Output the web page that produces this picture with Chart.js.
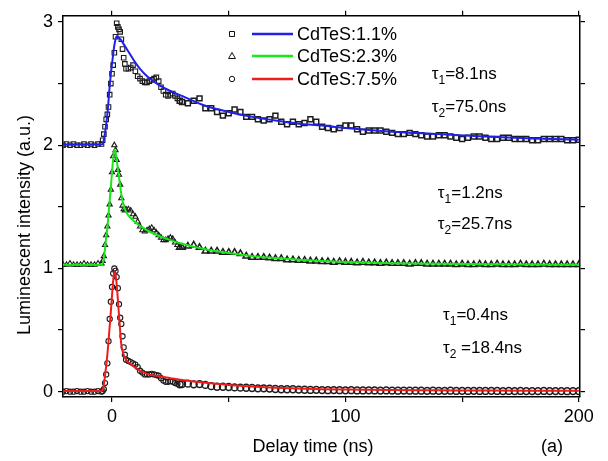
<!DOCTYPE html>
<html>
<head>
<meta charset="utf-8">
<script src="https://cdn.jsdelivr.net/npm/chart.js@4.4.1/dist/chart.umd.min.js"></script>
<style>
  html, body { margin: 0; padding: 0; background: #fff; }
  #wrap { width: 608px; height: 461px; }
</style>
</head>
<body>
<div id="wrap"><canvas id="decayChart"></canvas></div>
<script>
// Measured points: one common time grid (ns)
const t = [
  -21, -19.5, -18, -16.5, -15, -13.5, -12, -10.5, -9, -7.5, -6, -4.5,
  -4, -3.5, -3, -2.5, -2, -1.5, -1, -0.5, 0, 0.5, 1, 1.5, 2, 2.5, 3, 3.5, 4, 4.5, 5, 5.5, 6,
  7, 8, 9, 10, 11, 12, 13, 14, 15, 16, 17, 18, 19, 20, 21, 22, 23, 24, 25, 26, 27, 28, 29, 30,
  32.5, 35, 37.5, 40, 42.5, 45, 47.5, 50, 52.5, 55,
  57.5, 60, 62.5, 65, 67.5, 70, 72.5, 75, 77.5, 80,
  82.5, 85, 87.5, 90, 92.5, 95, 97.5, 100, 102.5, 105,
  107.5, 110, 112.5, 115, 117.5, 120, 122.5, 125, 127.5, 130,
  132.5, 135, 137.5, 140, 142.5, 145, 147.5, 150, 152.5, 155,
  157.5, 160, 162.5, 165, 167.5, 170, 172.5, 175, 177.5, 180,
  182.5, 185, 187.5, 190, 192.5, 195, 197.5, 200
];

// CdTeS:1.1% (offset by 2)
const dataBlue = [
  2.00, 2.01, 2.00, 2.01, 2.00, 2.00, 2.01, 2.00, 2.01, 2.00, 2.01, 2.01,
  2.04, 2.09, 2.15, 2.21, 2.25, 2.31, 2.41, 2.50, 2.58, 2.65, 2.75, 2.88, 2.99, 2.96, 2.94, 2.92, 2.86, 2.78, 2.71, 2.66, 2.62,
  2.62, 2.63, 2.65, 2.60, 2.56, 2.54, 2.52, 2.51, 2.51, 2.52, 2.53, 2.54, 2.55, 2.52, 2.47, 2.44, 2.41, 2.40, 2.41, 2.42, 2.40, 2.38, 2.36, 2.35,
  2.34, 2.36, 2.38, 2.30, 2.30, 2.27, 2.24, 2.26, 2.29, 2.27,
  2.23, 2.23, 2.21, 2.20, 2.21, 2.24, 2.19, 2.17, 2.19, 2.17,
  2.18, 2.21, 2.19, 2.15, 2.14, 2.13, 2.14, 2.16, 2.16, 2.13,
  2.11, 2.12, 2.12, 2.12, 2.11, 2.10, 2.09, 2.09, 2.10, 2.09,
  2.08, 2.07, 2.07, 2.08, 2.08, 2.07, 2.06, 2.05, 2.06, 2.07,
  2.07, 2.06, 2.05, 2.05, 2.06, 2.06, 2.05, 2.05, 2.05, 2.04,
  2.04, 2.05, 2.05, 2.05, 2.05, 2.04, 2.04, 2.045
];

// CdTeS:2.3% (offset by ~1)
const dataGreen = [
  1.03, 1.03, 1.04, 1.03, 1.03, 1.03, 1.04, 1.03, 1.03, 1.03, 1.04, 1.04,
  1.06, 1.10, 1.19, 1.27, 1.34, 1.43, 1.52, 1.64, 1.78, 1.91, 2.00, 1.96, 1.88, 1.80, 1.76, 1.68, 1.57, 1.51, 1.48, 1.47, 1.48,
  1.48, 1.47, 1.44, 1.42, 1.38, 1.34, 1.31, 1.30, 1.31, 1.32, 1.33, 1.31, 1.29, 1.27, 1.25, 1.23, 1.23, 1.24, 1.25, 1.24, 1.21, 1.19, 1.17, 1.17,
  1.18, 1.19, 1.17, 1.14, 1.14, 1.14, 1.13, 1.13, 1.13, 1.12,
  1.10, 1.09, 1.09, 1.09, 1.085, 1.08, 1.08, 1.07, 1.07, 1.065,
  1.065, 1.06, 1.06, 1.055, 1.055, 1.05, 1.055, 1.05, 1.05, 1.045,
  1.05, 1.045, 1.045, 1.04, 1.045, 1.04, 1.04, 1.04, 1.035, 1.04,
  1.04, 1.035, 1.035, 1.035, 1.035, 1.035, 1.03, 1.035, 1.03, 1.03,
  1.035, 1.03, 1.03, 1.035, 1.03, 1.03, 1.03, 1.035, 1.03, 1.03,
  1.03, 1.035, 1.03, 1.03, 1.03, 1.03, 1.03, 1.03
];

// CdTeS:7.5%
const dataRed = [
  0.00, 0.005, 0.00, 0.00, 0.005, 0.00, 0.00, 0.005, 0.00, 0.00, 0.005, 0.00,
  0.005, 0.02, 0.07, 0.14, 0.23, 0.41, 0.59, 0.73, 0.85, 0.96, 1.00, 0.98, 0.93, 0.84, 0.71, 0.60, 0.55, 0.45, 0.36, 0.30, 0.26,
  0.25, 0.24, 0.23, 0.22, 0.20, 0.17, 0.155, 0.14, 0.14, 0.14, 0.145, 0.14, 0.135, 0.13, 0.11, 0.09, 0.08, 0.08, 0.085, 0.08, 0.07, 0.065, 0.06, 0.062,
  0.065, 0.06, 0.062, 0.055, 0.045, 0.04, 0.04, 0.038, 0.035, 0.033,
  0.032, 0.03, 0.027, 0.027, 0.025, 0.022, 0.02, 0.02, 0.02, 0.017,
  0.016, 0.014, 0.015, 0.013, 0.012, 0.013, 0.012, 0.011, 0.012, 0.01,
  0.01, 0.011, 0.01, 0.009, 0.01, 0.009, 0.008, 0.009, 0.008, 0.008,
  0.008, 0.007, 0.008, 0.007, 0.007, 0.008, 0.006, 0.007, 0.006, 0.007,
  0.006, 0.006, 0.007, 0.006, 0.005, 0.006, 0.005, 0.006, 0.005, 0.005,
  0.005, 0.006, 0.005, 0.005, 0.005, 0.004, 0.005, 0.005
];

// Fitted curves
const fitT = [
  -21, -5, -4, -3.5, -3, -2.5, -2, -1.5, -1, -0.5,
  0, 0.5, 1, 1.5, 2, 2.5, 3, 4, 5, 6,
  7, 8, 10, 12, 15, 20, 25, 30, 40, 50,
  60, 70, 80, 90, 100, 120, 140, 160, 180, 200
];
const fitBlue = [
  2.005, 2.005, 2.01, 2.04, 2.10, 2.17, 2.25, 2.36, 2.48, 2.58,
  2.66, 2.74, 2.81, 2.86, 2.885, 2.88, 2.87, 2.85, 2.82, 2.79,
  2.76, 2.73, 2.67, 2.62, 2.56, 2.49, 2.44, 2.40, 2.32, 2.27,
  2.23, 2.20, 2.175, 2.16, 2.14, 2.11, 2.09, 2.07, 2.055, 2.045
];
const fitGreen = [
  1.03, 1.03, 1.04, 1.08, 1.16, 1.25, 1.33, 1.44, 1.55, 1.66,
  1.78, 1.89, 1.965, 1.95, 1.88, 1.81, 1.74, 1.60, 1.51, 1.46,
  1.43, 1.41, 1.375, 1.345, 1.31, 1.265, 1.23, 1.20, 1.155, 1.125,
  1.10, 1.085, 1.07, 1.06, 1.052, 1.043, 1.038, 1.035, 1.032, 1.03
];
const fitRed = [
  0.005, 0.005, 0.015, 0.06, 0.13, 0.21, 0.30, 0.41, 0.53, 0.65,
  0.78, 0.90, 0.975, 0.95, 0.87, 0.75, 0.62, 0.38, 0.30, 0.26,
  0.24, 0.225, 0.195, 0.17, 0.145, 0.125, 0.11, 0.095, 0.072, 0.055,
  0.042, 0.032, 0.025, 0.02, 0.017, 0.013, 0.011, 0.009, 0.008, 0.007
];

const seriesNames = ['CdTeS:1.1%', 'CdTeS:2.3%', 'CdTeS:7.5%'];
const tau1Text = ['=8.1ns', '=1.2ns', '=0.4ns'];
const tau2Text = ['=75.0ns', '=25.7ns', ' =18.4ns'];
const xTicksShown = [0, 100, 200];
const yTicksShown = [0, 1, 2, 3];

const FONT = '"Liberation Sans", Arial, Helvetica, sans-serif';
const colors = ['#2020e8', '#18e818', '#ee1c1c'];
const markerStyles = ['rect', 'triangle', 'circle'];

const toPts = (xs, ys) => xs.map((x, i) => ({ x: x, y: ys[i] }));

function markerSet(ys, style, r, grow) {
  return {
    data: toPts(t, ys),
    pointStyle: style,
    // the dense tail reads as a dark chain in the original, so markers there are a bit bigger
    pointRadius: c => (c.raw && c.raw.x > 28) ? r + grow : r,
    borderWidth: c => (c.raw && c.raw.x > 28) ? 1.5 : 1.1,
    pointBorderColor: '#1c1c1c',
    pointBackgroundColor: 'rgba(255,255,255,0)',
    showLine: false,
    order: 1
  };
}
function fitSet(ys, color) {
  return {
    data: toPts(fitT, ys),
    borderColor: color,
    borderWidth: 2,
    pointRadius: 0,
    showLine: true,
    cubicInterpolationMode: 'monotone',
    order: 0
  };
}

// Legend, tau labels and axis titles
const overlay = {
  id: 'overlay',
  afterDraw(chart) {
    const ctx = chart.ctx;
    const xs = chart.scales.x, ys = chart.scales.y;
    ctx.save();
    ctx.fillStyle = '#000';

    // legend
    const legY = [34, 56, 79];
    ctx.textBaseline = 'middle';
    ctx.font = '18px ' + FONT;
    for (let i = 0; i < 3; i++) {
      const y = legY[i], mx = 232;
      ctx.strokeStyle = '#111';
      ctx.lineWidth = 1;
      ctx.beginPath();
      if (i === 0) {
        ctx.rect(mx - 2.5, y - 2.5, 5, 5);
      } else if (i === 1) {
        ctx.moveTo(mx, y - 3.5); ctx.lineTo(mx + 3.5, y + 2.5); ctx.lineTo(mx - 3.5, y + 2.5); ctx.closePath();
      } else {
        ctx.arc(mx, y, 2.7, 0, Math.PI * 2);
      }
      ctx.stroke();
      ctx.strokeStyle = colors[i];
      ctx.lineWidth = 2.5;
      ctx.beginPath();
      ctx.moveTo(252, y); ctx.lineTo(293, y);
      ctx.stroke();
      ctx.fillText(seriesNames[i], 297, y + 1);
    }

    // tau annotations placed in data space
    ctx.textBaseline = 'alphabetic';
    function tau(xv, yv, sub, rest) {
      const x = xs.getPixelForValue(xv), y = ys.getPixelForValue(yv);
      ctx.font = '17px ' + FONT;
      ctx.fillText('\u03c4', x, y);
      let w = ctx.measureText('\u03c4').width;
      ctx.font = '12px ' + FONT;
      ctx.fillText(sub, x + w, y + 5);
      w += ctx.measureText(sub).width;
      ctx.font = '17px ' + FONT;
      ctx.fillText(rest, x + w, y);
    }
    const tauX = [137, 139.6, 141.8];
    const tauY1 = [2.54, 1.57, 0.58];
    const tauY2 = [2.27, 1.32, 0.31];
    for (let i = 0; i < 3; i++) {
      tau(tauX[i], tauY1[i], '1', tau1Text[i]);
      tau(tauX[i], tauY2[i], '2', tau2Text[i]);
    }

    // axis titles
    ctx.font = '18px ' + FONT;
    ctx.textAlign = 'center';
    ctx.fillText('Delay time (ns)', 313, 452);
    ctx.fillText('(a)', 552, 452);
    ctx.translate(29.5, 225);
    ctx.rotate(-Math.PI / 2);
    ctx.fillText('Luminescent intensity (a.u.)', 0, 0);
    ctx.restore();
  }
};

const gridOpts = { drawOnChartArea: false, drawTicks: true, tickLength: 5, color: '#000', lineWidth: 1.2 };
const borderOpts = { display: true, color: '#000', width: 1.5 };

new Chart(document.getElementById('decayChart'), {
  type: 'scatter',
  data: {
    datasets: [
      fitSet(fitBlue, colors[0]),
      fitSet(fitGreen, colors[1]),
      fitSet(fitRed, colors[2]),
      markerSet(dataBlue, markerStyles[0], 3.2, 0.3),
      markerSet(dataGreen, markerStyles[1], 3, 0.7),
      markerSet(dataRed, markerStyles[2], 2.6, 0.8)
    ]
  },
  options: {
    responsive: true,
    maintainAspectRatio: false,
    animation: false,
    events: [],
    layout: { padding: 0 },
    plugins: { legend: { display: false }, tooltip: { enabled: false } },
    scales: {
      x: {
        type: 'linear', position: 'bottom', min: -21, max: 200.5,
        grid: gridOpts, border: borderOpts,
        ticks: {
          stepSize: 50, includeBounds: false, padding: 4, color: '#000', maxRotation: 0,
          font: { size: 18, family: FONT },
          callback: v => xTicksShown.includes(v) ? v : ''
        },
        afterFit: s => { s.height = 64; }
      },
      x2: {
        type: 'linear', position: 'top', min: -21, max: 200.5,
        grid: gridOpts, border: borderOpts,
        ticks: { stepSize: 50, includeBounds: false, display: false },
        afterFit: s => { s.height = 13; }
      },
      y: {
        type: 'linear', position: 'left', min: -0.043, max: 3.05,
        grid: gridOpts, border: borderOpts,
        ticks: {
          stepSize: 0.5, includeBounds: false, padding: 5, color: '#000',
          font: { size: 18, family: FONT },
          callback: v => yTicksShown.includes(v) ? v : ''
        },
        afterFit: s => { s.width = 63; }
      },
      y2: {
        type: 'linear', position: 'right', min: -0.043, max: 3.05,
        grid: gridOpts, border: borderOpts,
        ticks: { stepSize: 0.5, includeBounds: false, display: false },
        afterFit: s => { s.width = 28; }
      }
    }
  },
  plugins: [overlay]
});
</script>
</body>
</html>
